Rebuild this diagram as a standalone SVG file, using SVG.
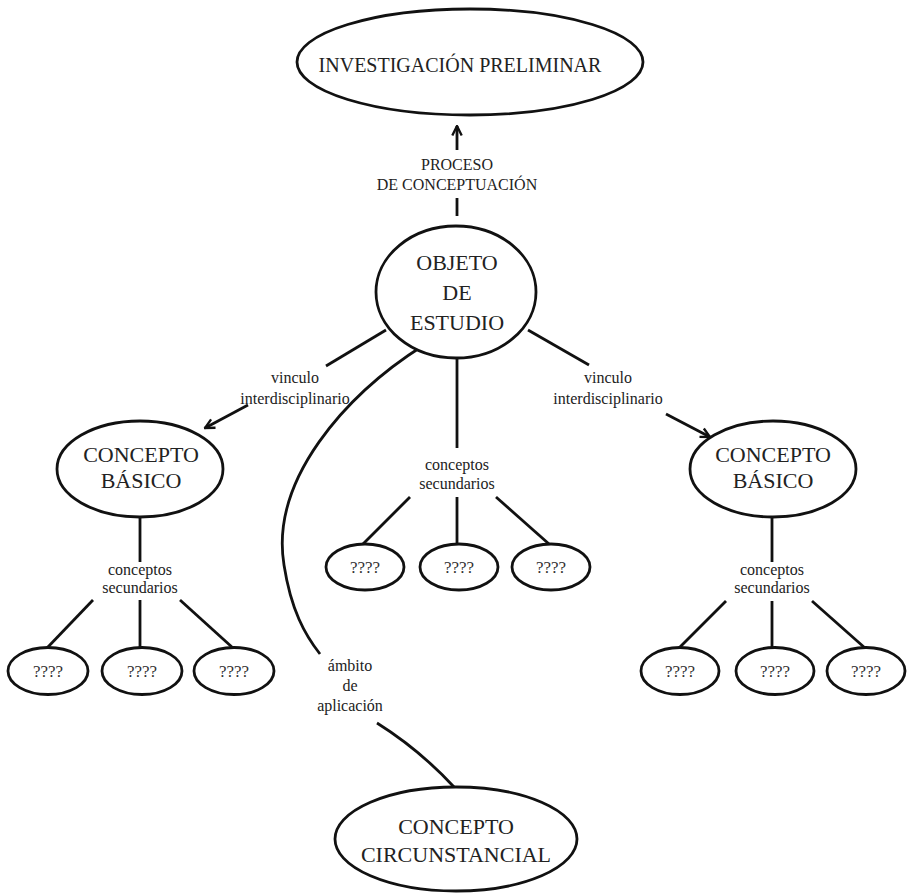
<svg xmlns="http://www.w3.org/2000/svg" width="910" height="895" viewBox="0 0 910 895">
  <style>
    .node { fill: #fff; stroke: #111; stroke-width: 2.8; }
    .edge { fill: none; stroke: #111; stroke-width: 2.8; }
    .big { font-family: "Liberation Serif", "DejaVu Serif", serif; font-size: 22px; fill: #222; text-anchor: middle; }
    .top { font-family: "Liberation Serif", "DejaVu Serif", serif; font-size: 20px; fill: #222; text-anchor: middle; }
    .lbl { font-family: "Liberation Serif", "DejaVu Serif", serif; font-size: 16px; fill: #222; text-anchor: middle; }
    .q { font-family: "Liberation Serif", "DejaVu Serif", serif; font-size: 17px; fill: #333; text-anchor: middle; }
  </style>
  <defs>
    <marker id="arrow" viewBox="0 0 10 10" refX="9" refY="5" markerWidth="4.2" markerHeight="4.2" orient="auto" markerUnits="strokeWidth">
      <path d="M1,1 L9,5 L1,9" fill="none" stroke="#111" stroke-width="2"/>
    </marker>
  </defs>
  <rect width="910" height="895" fill="#fff"/>

  <!-- connectors -->
  <g id="connectors">
    <!-- objeto -> investigación -->
    <line class="edge" x1="457" y1="150" x2="457" y2="126" marker-end="url(#arrow)"/>
    <line class="edge" x1="457" y1="198" x2="457" y2="216"/>
    <!-- objeto -> left concepto básico -->
    <line class="edge" x1="386" y1="330" x2="326" y2="366"/>
    <line class="edge" x1="248" y1="405" x2="205" y2="428" marker-end="url(#arrow)"/>
    <!-- objeto -> right concepto básico -->
    <line class="edge" x1="528" y1="330" x2="589" y2="365"/>
    <line class="edge" x1="666" y1="414" x2="710" y2="437" marker-end="url(#arrow)"/>
    <!-- objeto -> central secondary concepts -->
    <line class="edge" x1="457" y1="358" x2="457" y2="448"/>
    <line class="edge" x1="410" y1="497" x2="363" y2="544"/>
    <line class="edge" x1="457" y1="497" x2="457" y2="545"/>
    <line class="edge" x1="496" y1="497" x2="549" y2="544"/>
    <!-- left concepto básico children -->
    <line class="edge" x1="140" y1="517" x2="140" y2="562"/>
    <line class="edge" x1="93" y1="600" x2="47" y2="648"/>
    <line class="edge" x1="140" y1="600" x2="140" y2="648"/>
    <line class="edge" x1="180" y1="600" x2="233" y2="648"/>
    <!-- right concepto básico children -->
    <line class="edge" x1="772" y1="518" x2="772" y2="562"/>
    <line class="edge" x1="726" y1="601" x2="679" y2="648"/>
    <line class="edge" x1="772" y1="601" x2="772" y2="648"/>
    <line class="edge" x1="812" y1="601" x2="865" y2="648"/>
    <!-- objeto -> concepto circunstancial -->
    <path class="edge" d="M424,345 C345,395 270,480 284,565 C291,610 305,635 320,654"/>
    <path class="edge" d="M377,723 Q420,750 455,788"/>
  </g>

  <!-- connector labels -->
  <g id="labels">
    <text class="lbl" x="457" y="170">PROCESO</text>
    <text class="lbl" x="457" y="190">DE CONCEPTUACIÓN</text>
    <text class="lbl" x="295" y="383">vinculo</text>
    <text class="lbl" x="295" y="404">interdisciplinario</text>
    <text class="lbl" x="608" y="383">vinculo</text>
    <text class="lbl" x="608" y="404">interdisciplinario</text>
    <text class="lbl" x="457" y="470">conceptos</text>
    <text class="lbl" x="457" y="489">secundarios</text>
    <text class="lbl" x="140" y="575">conceptos</text>
    <text class="lbl" x="140" y="593">secundarios</text>
    <text class="lbl" x="772" y="575">conceptos</text>
    <text class="lbl" x="772" y="593">secundarios</text>
    <text class="lbl" x="350" y="671">ámbito</text>
    <text class="lbl" x="350" y="691">de</text>
    <text class="lbl" x="350" y="711">aplicación</text>
  </g>

  <g id="investigacion-preliminar">
    <ellipse class="node" cx="470" cy="62" rx="173" ry="53"/>
    <text class="top" x="460" y="72">INVESTIGACIÓN PRELIMINAR</text>
  </g>

  <g id="objeto-de-estudio">
    <ellipse class="node" cx="456" cy="292" rx="80" ry="66"/>
    <text class="big" x="457" y="270">OBJETO</text>
    <text class="big" x="457" y="300">DE</text>
    <text class="big" x="457" y="330">ESTUDIO</text>
  </g>

  <g id="concepto-basico-izq">
    <ellipse class="node" cx="140" cy="469" rx="83" ry="48"/>
    <text class="big" x="141" y="462">CONCEPTO</text>
    <text class="big" x="141" y="488">BÁSICO</text>
  </g>

  <g id="concepto-basico-der">
    <ellipse class="node" cx="773" cy="469" rx="83" ry="48"/>
    <text class="big" x="773" y="462">CONCEPTO</text>
    <text class="big" x="773" y="488">BÁSICO</text>
  </g>

  <g id="secundario-centro-1">
    <ellipse class="node" cx="365" cy="567" rx="39" ry="23"/>
    <text class="q" x="365" y="573">????</text>
  </g>
  <g id="secundario-centro-2">
    <ellipse class="node" cx="459" cy="567" rx="39" ry="23"/>
    <text class="q" x="459" y="573">????</text>
  </g>
  <g id="secundario-centro-3">
    <ellipse class="node" cx="551" cy="567" rx="39" ry="23"/>
    <text class="q" x="551" y="573">????</text>
  </g>

  <g id="secundario-izq-1">
    <ellipse class="node" cx="48" cy="671" rx="40" ry="23.5"/>
    <text class="q" x="48" y="677">????</text>
  </g>
  <g id="secundario-izq-2">
    <ellipse class="node" cx="142" cy="671" rx="40" ry="23.5"/>
    <text class="q" x="142" y="677">????</text>
  </g>
  <g id="secundario-izq-3">
    <ellipse class="node" cx="234" cy="671" rx="40" ry="23.5"/>
    <text class="q" x="234" y="677">????</text>
  </g>

  <g id="secundario-der-1">
    <ellipse class="node" cx="680" cy="671" rx="39" ry="23.5"/>
    <text class="q" x="680" y="677">????</text>
  </g>
  <g id="secundario-der-2">
    <ellipse class="node" cx="775" cy="671" rx="39" ry="23.5"/>
    <text class="q" x="775" y="677">????</text>
  </g>
  <g id="secundario-der-3">
    <ellipse class="node" cx="866" cy="671" rx="39" ry="23.5"/>
    <text class="q" x="866" y="677">????</text>
  </g>

  <g id="concepto-circunstancial">
    <ellipse class="node" cx="456" cy="839" rx="121" ry="52"/>
    <text class="big" x="456" y="834">CONCEPTO</text>
    <text class="big" x="456" y="862">CIRCUNSTANCIAL</text>
  </g>
</svg>
